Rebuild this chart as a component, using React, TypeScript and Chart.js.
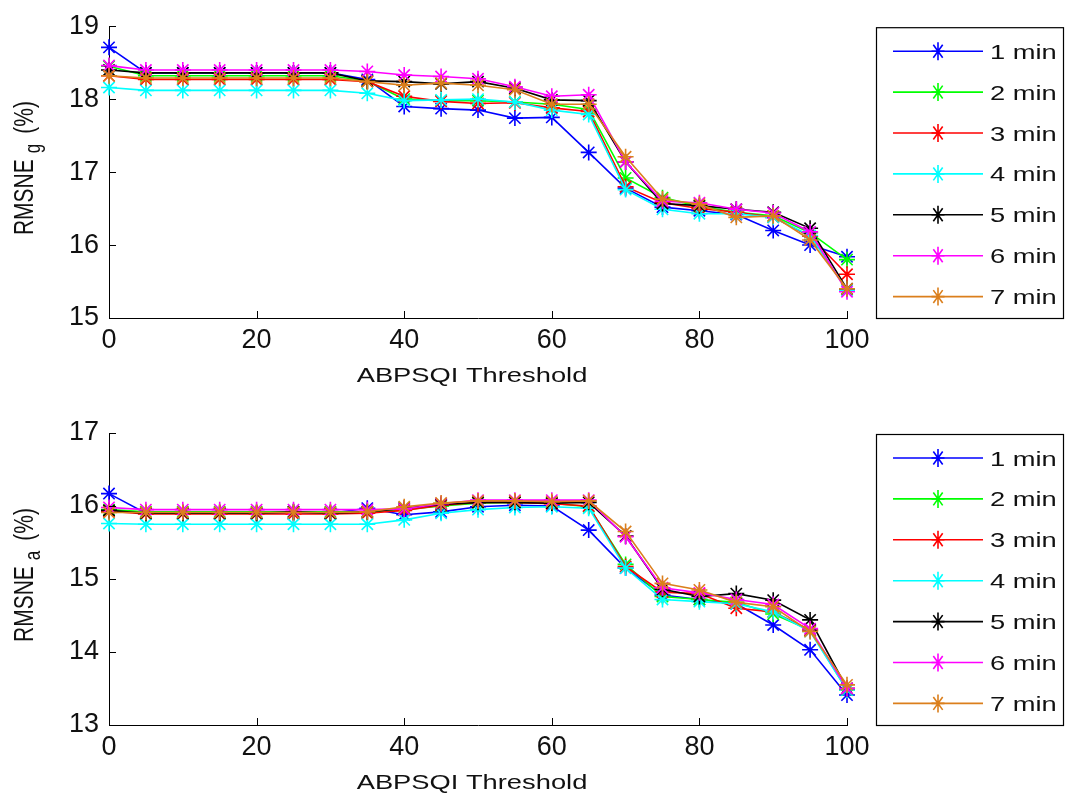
import React, { useEffect, useRef } from "react";
import { Chart, registerables } from "chart.js";

Chart.register(...registerables);

// ---------- data ----------
const thresholds = [0, 5, 10, 15, 20, 25, 30, 35, 40, 45, 50, 55, 60, 65, 70, 75, 80, 85, 90, 95, 100];
const seriesLabels = ["1 min", "2 min", "3 min", "4 min", "5 min", "6 min", "7 min"];
const seriesColors = ["#0000FF", "#00FF00", "#FF0000", "#00FFFF", "#000000", "#FF00FF", "#DB7F1C"];

const xTicksLabel = "ABPSQI Threshold";

// RMSNE_g (top panel)
const gMin1 = [18.71, 18.36, 18.36, 18.36, 18.36, 18.36, 18.36, 18.27, 17.90, 17.87, 17.85, 17.74, 17.75, 17.27, 16.78, 16.52, 16.47, 16.42, 16.20, 16.00, 15.84];
const gMin2 = [18.45, 18.32, 18.32, 18.32, 18.32, 18.32, 18.32, 18.25, 18.00, 17.98, 17.98, 17.96, 17.93, 17.86, 16.92, 16.65, 16.53, 16.45, 16.40, 16.17, 15.80];
const gMin3 = [18.32, 18.27, 18.27, 18.27, 18.27, 18.27, 18.27, 18.24, 18.04, 17.97, 17.94, 17.95, 17.88, 17.83, 16.80, 16.58, 16.50, 16.45, 16.38, 16.12, 15.60];
const gMin4 = [18.16, 18.12, 18.12, 18.12, 18.12, 18.12, 18.12, 18.08, 17.98, 17.99, 18.00, 17.96, 17.85, 17.79, 16.76, 16.49, 16.43, 16.43, 16.38, 16.13, 15.38];
const gMin5 = [18.40, 18.36, 18.36, 18.36, 18.36, 18.36, 18.36, 18.25, 18.24, 18.21, 18.24, 18.15, 17.99, 17.98, 17.14, 16.57, 16.54, 16.49, 16.45, 16.23, 15.40];
const gMin6 = [18.46, 18.40, 18.40, 18.40, 18.40, 18.40, 18.40, 18.38, 18.33, 18.31, 18.28, 18.17, 18.04, 18.06, 17.14, 16.60, 16.58, 16.49, 16.44, 16.18, 15.36];
const gMin7 = [18.32, 18.29, 18.29, 18.29, 18.29, 18.29, 18.29, 18.24, 18.19, 18.22, 18.19, 18.13, 17.93, 17.93, 17.21, 16.63, 16.56, 16.38, 16.40, 16.07, 15.40];

// RMSNE_a (bottom panel)
const aMin1 = [16.17, 15.90, 15.90, 15.90, 15.90, 15.90, 15.90, 15.97, 15.88, 15.92, 15.99, 16.01, 16.00, 15.67, 15.15, 14.78, 14.72, 14.66, 14.37, 14.03, 13.41];
const aMin2 = [15.95, 15.92, 15.92, 15.92, 15.92, 15.92, 15.92, 15.92, 15.95, 16.00, 16.04, 16.05, 16.04, 15.99, 15.20, 14.76, 14.72, 14.68, 14.52, 14.30, 13.48];
const aMin3 = [15.93, 15.89, 15.89, 15.89, 15.89, 15.89, 15.89, 15.90, 15.94, 16.01, 16.05, 16.05, 16.03, 16.00, 15.17, 14.82, 14.80, 14.60, 14.55, 14.30, 13.50];
const aMin4 = [15.76, 15.75, 15.75, 15.75, 15.75, 15.75, 15.75, 15.75, 15.81, 15.90, 15.95, 15.98, 15.99, 15.97, 15.15, 14.72, 14.69, 14.66, 14.55, 14.28, 13.48];
const aMin5 = [15.94, 15.90, 15.90, 15.90, 15.90, 15.92, 15.90, 15.92, 15.97, 16.02, 16.05, 16.05, 16.04, 16.05, 15.59, 14.86, 14.76, 14.80, 14.71, 14.44, 13.50];
const aMin6 = [15.98, 15.95, 15.95, 15.95, 15.95, 15.95, 15.95, 15.95, 15.96, 16.03, 16.08, 16.08, 16.08, 16.08, 15.58, 14.88, 14.81, 14.72, 14.65, 14.32, 13.50];
const aMin7 = [15.91, 15.91, 15.91, 15.91, 15.91, 15.91, 15.91, 15.92, 15.99, 16.04, 16.07, 16.07, 16.06, 16.07, 15.65, 14.94, 14.85, 14.68, 14.62, 14.28, 13.55];

const topSeries = [gMin1, gMin2, gMin3, gMin4, gMin5, gMin6, gMin7];
const bottomSeries = [aMin1, aMin2, aMin3, aMin4, aMin5, aMin6, aMin7];

const topYRange = { min: 15, max: 19 };
const bottomYRange = { min: 13, max: 17 };
const xRange = { min: 0, max: 100, step: 20 };

// ---------- styling ----------
const FONT = "'Liberation Sans', Arial, Helvetica, sans-serif";
const TEXT_COLOR = "#111111";
const STRETCH = 1.3;

function drawStar(ctx: CanvasRenderingContext2D, x: number, y: number, rx: number, ry: number) {
  const d = 0.72;
  ctx.beginPath();
  ctx.moveTo(x - rx, y);
  ctx.lineTo(x + rx, y);
  ctx.moveTo(x, y - ry);
  ctx.lineTo(x, y + ry);
  ctx.moveTo(x - rx * d, y - ry * d);
  ctx.lineTo(x + rx * d, y + ry * d);
  ctx.moveTo(x - rx * d, y + ry * d);
  ctx.lineTo(x + rx * d, y - ry * d);
  ctx.stroke();
}

function makeDecor(sub: string) {
  return {
    id: "decor",
    afterDraw(chart: any) {
      const ctx: CanvasRenderingContext2D = chart.ctx;
      const { left, top, bottom } = chart.chartArea;
      const xs = chart.scales.x;
      const ys = chart.scales.y;
      ctx.save();
      // inward tick marks
      ctx.strokeStyle = "#000";
      ctx.lineWidth = 1;
      ctx.beginPath();
      xs.ticks.forEach((t: any) => {
        const px = Math.round(xs.getPixelForValue(t.value)) + 0.5;
        ctx.moveTo(px, bottom);
        ctx.lineTo(px, bottom - 7);
      });
      ys.ticks.forEach((t: any) => {
        const py = Math.round(ys.getPixelForValue(t.value)) + 0.5;
        ctx.moveTo(left, py);
        ctx.lineTo(left + 7, py);
      });
      ctx.stroke();

      // x label
      ctx.fillStyle = TEXT_COLOR;
      ctx.font = `21px ${FONT}`;
      ctx.textBaseline = "alphabetic";
      ctx.textAlign = "left";
      const xw = ctx.measureText(xTicksLabel).width * STRETCH;
      ctx.save();
      ctx.translate(472 - xw / 2, bottom + 64);
      ctx.scale(STRETCH, 1);
      ctx.fillText(xTicksLabel, 0, 0);
      ctx.restore();

      // y label (rotated): RMSNE_sub (%)
      ctx.font = `21px ${FONT}`;
      const wMain = ctx.measureText("RMSNE").width;
      const wTail = ctx.measureText("(%)").width;
      ctx.font = `17px ${FONT}`;
      const wSub = ctx.measureText(sub).width;
      const gap1 = 6;
      const gap2 = 10;
      const total = wMain + gap1 + wSub + gap2 + wTail;
      const cy = (top + bottom) / 2 - 4;
      ctx.save();
      ctx.translate(33, cy + total / 2);
      ctx.rotate(-Math.PI / 2);
      ctx.scale(1, STRETCH);
      ctx.font = `21px ${FONT}`;
      ctx.fillText("RMSNE", 0, 0);
      ctx.font = `17px ${FONT}`;
      ctx.fillText(sub, wMain + gap1, 5);
      ctx.font = `21px ${FONT}`;
      ctx.fillText("(%)", wMain + gap1 + wSub + gap2, 0);
      ctx.restore();

      // legend
      const bx = 876.5;
      const by = top + 1.5;
      const bw = 187;
      const bh = bottom - top - 1;
      ctx.fillStyle = "#ffffff";
      ctx.fillRect(bx, by, bw, bh);
      ctx.strokeStyle = "#000";
      ctx.lineWidth = 1.2;
      ctx.strokeRect(bx, by, bw, bh);
      const rowStep = 40.9;
      const firstRow = by + 23.5;
      chart.data.datasets.forEach((ds: any, i: number) => {
        const ry = firstRow + i * rowStep;
        ctx.strokeStyle = ds.borderColor;
        ctx.lineWidth = 1.6;
        ctx.beginPath();
        ctx.moveTo(893, ry);
        ctx.lineTo(983, ry);
        ctx.stroke();
        ctx.lineWidth = 1.6;
        drawStar(ctx, 938, ry, 6.5, 9);
        ctx.fillStyle = TEXT_COLOR;
        ctx.font = `21px ${FONT}`;
        ctx.save();
        ctx.translate(990, ry + 7.5);
        ctx.scale(STRETCH, 1);
        ctx.fillText(ds.label, 0, 0);
        ctx.restore();
      });
      ctx.restore();
    },
  };
}

function buildConfig(series: number[][], yRange: { min: number; max: number }, padTop: number, canvasH: number, plotBottom: number, sub: string): any {
  return {
    type: "line",
    data: {
      labels: thresholds,
      datasets: series.map((vals, i) => ({
        label: seriesLabels[i],
        data: thresholds.map((x, j) => ({ x, y: vals[j] })),
        borderColor: seriesColors[i],
        backgroundColor: seriesColors[i],
        borderWidth: 1.6,
        pointStyle: "star",
        pointRadius: 8,
        pointBorderWidth: 1.6,
        pointBorderColor: seriesColors[i],
        pointHoverRadius: 8,
        tension: 0,
        fill: false,
        clip: false,
        order: seriesLabels.length - i,
      })),
    },
    options: {
      animation: false,
      responsive: false,
      devicePixelRatio: 1,
      events: [],
      layout: { padding: { left: 0, top: padTop, right: 1068 - 847, bottom: 0 } },
      plugins: { legend: { display: false }, tooltip: { enabled: false }, title: { display: false } },
      scales: {
        x: {
          type: "linear",
          min: xRange.min,
          max: xRange.max,
          grid: { display: false, drawTicks: false },
          border: { display: true, color: "#000", width: 1 },
          ticks: {
            stepSize: xRange.step,
            autoSkip: false,
            maxRotation: 0,
            padding: 6,
            color: TEXT_COLOR,
            font: { family: FONT, size: 27 },
          },
          afterFit: (scale: any) => {
            scale.height = canvasH - plotBottom;
          },
        },
        y: {
          type: "linear",
          min: yRange.min,
          max: yRange.max,
          grid: { display: false, drawTicks: false },
          border: { display: true, color: "#000", width: 1 },
          ticks: {
            stepSize: 1,
            autoSkip: false,
            padding: 10,
            color: TEXT_COLOR,
            font: { family: FONT, size: 27 },
          },
          afterFit: (scale: any) => {
            scale.width = 109;
          },
        },
      },
    },
    plugins: [makeDecor(sub)],
  };
}

function Panel(props: { series: number[][]; yRange: { min: number; max: number }; padTop: number; height: number; plotBottom: number; sub: string }) {
  const ref = useRef<HTMLCanvasElement | null>(null);
  useEffect(() => {
    if (!ref.current) return;
    const chart = new Chart(ref.current, buildConfig(props.series, props.yRange, props.padTop, props.height, props.plotBottom, props.sub));
    return () => chart.destroy();
  }, []);
  return <canvas ref={ref} width={1068} height={props.height} style={{ display: "block", width: 1068, height: props.height }} />;
}

export default function App() {
  return (
    <div style={{ position: "absolute", left: 0, top: 0, width: 1068, height: 801, background: "#ffffff" }}>
      <Panel series={topSeries} yRange={topYRange} padTop={20} height={400} plotBottom={318} sub="g" />
      <Panel series={bottomSeries} yRange={bottomYRange} padTop={33} height={401} plotBottom={325} sub="a" />
    </div>
  );
}
